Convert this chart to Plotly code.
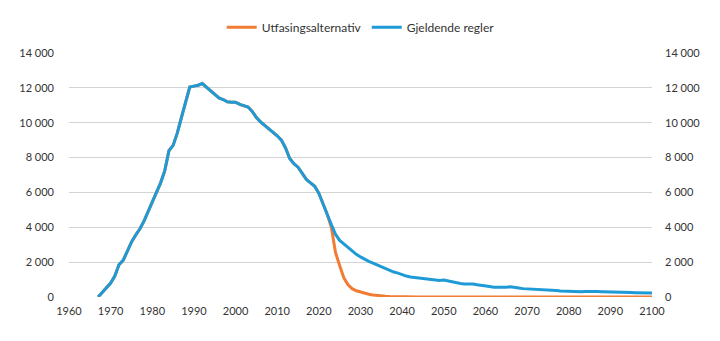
import plotly.graph_objects as go

years = list(range(1967, 2101))

gjeldende = [
    0, 250, 500, 800, 1200, 1850, 2100, 2650, 3150, 3550,          # 1967-1976
    3900, 4350, 4900, 5450, 5950, 6550, 7250, 8400, 8700, 9400,    # 1977-1986
    10300, 11100, 12050, 12100, 12150, 12250, 12050, 11800, 11600, 11420,  # 1987-1996
    11330, 11200, 11180, 11180, 11050, 10980, 10900, 10650, 10300, 10050,  # 1997-2006
    9850, 9700, 9450, 9250, 9000, 8550, 7950, 7650, 7450, 7100,    # 2007-2016
    6750, 6550, 6350, 5950, 5400, 4750, 4150, 3600, 3250, 3050,    # 2017-2026
    2800, 2600, 2450, 2300, 2150, 2050, 1950, 1850, 1730, 1620,    # 2027-2036
    1520, 1430, 1370, 1280, 1200, 1150, 1120, 1080, 1030, 1000,    # 2037-2046
    980, 960, 950, 970, 920, 860, 800, 770, 750, 760,              # 2047-2056
    750, 700, 680, 650, 600, 560, 550, 540, 560, 590,              # 2057-2066
    570, 520, 480, 470, 470, 450, 440, 440, 420, 400,              # 2067-2076
    370, 340, 330, 320, 290, 280, 300, 320, 330, 320,              # 2077-2086
    310, 300, 300, 290, 290, 280, 270, 270, 260, 250,              # 2087-2096
    250, 240, 220, 230,                                            # 2097-2100
]

utfasing = gjeldende[:56] + [
    4000, 2550, 1800, 1100, 700, 480, 360, 280, 220, 160,          # 2023-2032
    120, 80, 60, 40, 30, 20, 15, 10, 8, 6,                         # 2033-2042
    5, 4, 3, 2, 2, 1, 1, 1,                                        # 2043-2050
] + [0] * 50                                                        # 2051-2100

BLUE = "#1e9ad6"
ORANGE = "#f27c33"
FONT = "Lato"
TXT = "#333333"

fig = go.Figure()
fig.add_trace(go.Scatter(x=years, y=utfasing, name="Utfasingsalternativ", mode="lines",
                         line=dict(color=ORANGE, width=3)))
fig.add_trace(go.Scatter(x=years, y=gjeldende, name="Gjeldende regler", mode="lines",
                         line=dict(color=BLUE, width=3)))
fig.add_trace(go.Scatter(x=years, y=gjeldende, yaxis="y2", mode="lines", showlegend=False,
                         hoverinfo="skip", line=dict(color="rgba(0,0,0,0)", width=0)))

fig.update_layout(
    width=720, height=341,
    margin=dict(l=69, r=68, t=53, b=44, autoexpand=False),
    paper_bgcolor="white", plot_bgcolor="white",
    separators=", ",
    font=dict(family=FONT, size=11, color=TXT),
    showlegend=True,
    legend=dict(orientation="h", x=0.262, xanchor="left", y=0.92, yref="container",
                yanchor="middle", font=dict(family=FONT, size=12, color=TXT),
                traceorder="normal", itemwidth=30, entrywidth=100),
    xaxis=dict(range=[1960, 2100], tickmode="linear", tick0=1960, dtick=10,
               showgrid=False, zeroline=False, showline=False, ticks="",
               ticklabelstandoff=6, tickfont=dict(size=11, color=TXT)),
    yaxis=dict(range=[0, 14000], tickmode="linear", tick0=0, dtick=2000,
               tickformat=",d", showgrid=True, gridcolor="#d3d3d3", gridwidth=1,
               zeroline=False, showline=False, ticks="", ticklabelstandoff=14,
               tickfont=dict(size=11, color=TXT)),
    yaxis2=dict(range=[0, 14000], overlaying="y", side="right", matches="y",
                tickmode="linear", tick0=0, dtick=2000, tickformat=",d",
                showgrid=False, zeroline=False, showline=False, ticks="",
                ticklabelstandoff=12, tickfont=dict(size=11, color=TXT)),
)

fig.write_html("out.html")
